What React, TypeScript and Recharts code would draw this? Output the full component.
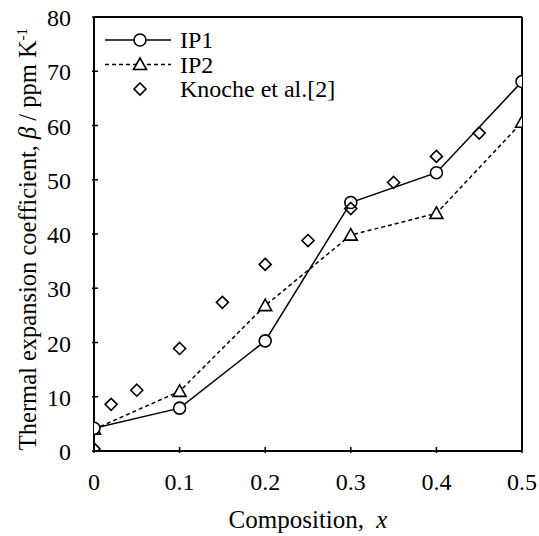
import { LineChart, Line, XAxis, YAxis, ReferenceLine } from 'recharts';

const FONT = '"Liberation Serif", "Times New Roman", serif';

const xTicks = [0, 0.1, 0.2, 0.3, 0.4, 0.5];
const yTicks = [0, 10, 20, 30, 40, 50, 60, 70, 80];

const ip1X = [0, 0.1, 0.2, 0.3, 0.4, 0.5];
const ip1Y = [4.2, 7.9, 20.3, 45.8, 51.3, 68.1];

const ip2X = [0, 0.1, 0.2, 0.3, 0.4, 0.5];
const ip2Y = [4.0, 11.0, 26.8, 39.8, 43.8, 60.6];

const knocheX = [0, 0.02, 0.05, 0.1, 0.15, 0.2, 0.25, 0.3, 0.35, 0.4, 0.45];
const knocheY = [0.4, 8.6, 11.2, 18.9, 27.4, 34.4, 38.8, 44.7, 49.5, 54.3, 58.6];

const ip1 = ip1X.map((x, i) => ({ x, y: ip1Y[i] }));
const ip2 = ip2X.map((x, i) => ({ x, y: ip2Y[i] }));
const knoche = knocheX.map((x, i) => ({ x, y: knocheY[i] }));

function CircleDot({ cx, cy }: any) {
  if (cx == null || cy == null) return null;
  return <circle cx={cx} cy={cy} r={6} fill="#fff" stroke="#000" strokeWidth={1.6} />;
}

function TriDot({ cx, cy }: any) {
  if (cx == null || cy == null) return null;
  return (
    <polygon
      points={`${cx},${cy - 6.5} ${cx + 6.5},${cy + 5} ${cx - 6.5},${cy + 5}`}
      fill="#fff" stroke="#000" strokeWidth={1.6}
    />
  );
}

function DiamondDot({ cx, cy }: any) {
  if (cx == null || cy == null) return null;
  return (
    <polygon
      points={`${cx},${cy - 6} ${cx + 6},${cy} ${cx},${cy + 6} ${cx - 6},${cy}`}
      fill="none" stroke="#000" strokeWidth={1.6}
    />
  );
}

function XTick({ x, y, payload }: any) {
  return (
    <g>
      <line x1={x} y1={y} x2={x} y2={y - 6} stroke="#000" strokeWidth={1.5} />
      <text x={x} y={y + 37} textAnchor="middle" fontFamily={FONT} fontSize={24} fill="#000">
        {payload.value}
      </text>
    </g>
  );
}

function YTick({ x, y, payload }: any) {
  return (
    <g>
      <line x1={x} y1={y} x2={x + 6} y2={y} stroke="#000" strokeWidth={1.5} />
      <text x={x - 21} y={y + 9} textAnchor="end" fontFamily={FONT} fontSize={24} fill="#000">
        {payload.value}
      </text>
    </g>
  );
}

const legendItems = [
  { name: 'IP1', dash: undefined as string | undefined, line: true, Mark: CircleDot },
  { name: 'IP2', dash: '4 3', line: true, Mark: TriDot },
  { name: 'Knoche et al.[2]', dash: undefined, line: false, Mark: DiamondDot },
];

function LegendBox() {
  return (
    <svg width={260} height={80} style={{ position: 'absolute', left: 105, top: 28 }}>
      {legendItems.map((it, i) => {
        const cy = 12 + i * 24.5;
        return (
          <g key={it.name}>
            {it.line && (
              <line x1={0} y1={cy} x2={66} y2={cy} stroke="#000" strokeWidth={1.5} strokeDasharray={it.dash} />
            )}
            <it.Mark cx={35} cy={cy} />
            <text x={75} y={cy + 8} fontFamily={FONT} fontSize={24} fill="#000">{it.name}</text>
          </g>
        );
      })}
    </svg>
  );
}

function YTitle({ viewBox }: any) {
  const cx = 36;
  const cy = viewBox.y + viewBox.height / 2 + 5;
  return (
    <text
      x={cx} y={cy} transform={`rotate(-90 ${cx} ${cy})`} textAnchor="middle"
      fontFamily={FONT} fontSize={24.5} fill="#000"
    >
      Thermal expansion coefficient, <tspan fontStyle="italic">β</tspan> / ppm K
      <tspan fontSize={15} dy={-9}>-1</tspan>
    </text>
  );
}

function XTitle({ viewBox }: any) {
  return (
    <text
      x={viewBox.x + viewBox.width / 2} y={528} textAnchor="middle"
      fontFamily={FONT} fontSize={25} fill="#000"
    >
      Composition, <tspan fontStyle="italic" dx={6}>x</tspan>
    </text>
  );
}

export default function App() {
  return (
    <div style={{ position: 'absolute', left: 0, top: 0, width: 539, height: 536, background: '#fff' }}>
      <LineChart
        width={539} height={536}
        margin={{ top: 17, right: 17, bottom: 55, left: 34 }}
      >
        <XAxis
          type="number" dataKey="x" domain={[0, 0.5]} ticks={xTicks} height={30}
          axisLine={{ stroke: '#000', strokeWidth: 2 }} tickLine={false} tickSize={0}
          tick={<XTick />} interval={0} allowDataOverflow
          label={<XTitle />}
        />
        <YAxis
          type="number" dataKey="y" domain={[0, 80]} ticks={yTicks} width={60}
          axisLine={{ stroke: '#000', strokeWidth: 2 }} tickLine={false} tickSize={0}
          tick={<YTick />} interval={0} allowDataOverflow
          label={<YTitle />}
        />
        <ReferenceLine y={80} stroke="#000" strokeWidth={2} />
        <ReferenceLine x={0.5} stroke="#000" strokeWidth={2} />
        <Line
          data={ip2} dataKey="y" name="IP2" stroke="#000" strokeWidth={1.5} strokeDasharray="4 3"
          dot={<TriDot />} isAnimationActive={false}
        />
        <Line
          data={ip1} dataKey="y" name="IP1" stroke="#000" strokeWidth={1.5}
          dot={<CircleDot />} isAnimationActive={false}
        />
        <Line
          data={knoche} dataKey="y" name="Knoche et al.[2]" stroke="none"
          dot={<DiamondDot />} isAnimationActive={false}
        />
      </LineChart>
      <LegendBox />
    </div>
  );
}
